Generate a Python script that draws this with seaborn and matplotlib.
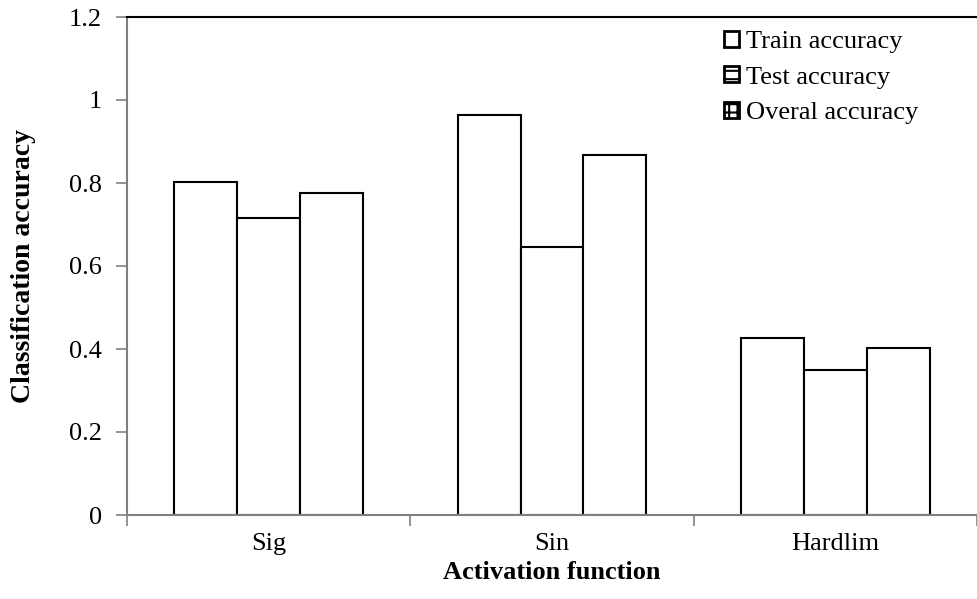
import pandas as pd
import numpy as np
import matplotlib.pyplot as plt
import seaborn as sns
from matplotlib.patches import Patch

functions = ['Sig', 'Sin', 'Hardlim']
metrics = ['Train accuracy', 'Test accuracy', 'Overal accuracy']
train_acc = [0.802, 0.964, 0.427]
test_acc = [0.715, 0.646, 0.349]
overall_acc = [0.776, 0.867, 0.402]
y_ticks = [0, 0.2, 0.4, 0.6, 0.8, 1, 1.2]
y_tick_labels = ['0', '0.2', '0.4', '0.6', '0.8', '1', '1.2']

rows = []
for name, vals in zip(metrics, [train_acc, test_acc, overall_acc]):
    for f, v in zip(functions, vals):
        rows.append({'func': f, 'metric': name, 'acc': v})
df = pd.DataFrame(rows)

sns.set_style('white')
plt.rcParams['font.family'] = ['Liberation Serif', 'DejaVu Serif']
plt.rcParams['text.color'] = 'black'
plt.rcParams['axes.labelcolor'] = 'black'
plt.rcParams['xtick.color'] = 'black'
plt.rcParams['ytick.color'] = 'black'
plt.rcParams['hatch.linewidth'] = 1.5

fig = plt.figure(figsize=(9.77, 5.99), dpi=100)
ax = fig.add_axes([127 / 977, 1 - 515 / 599, 1 - 127 / 977, (515 - 17) / 599])

sns.barplot(data=df, x='func', y='acc', hue='metric', order=functions,
            hue_order=metrics, palette=['white'] * 3, edgecolor='black',
            linewidth=1.5, width=0.667, ax=ax, legend=False)

ax.set_ylim(0, 1.2)
ax.set_xlim(-0.5, 2.5 - 5 / 285)
ax.set_yticks(y_ticks)
ax.set_yticklabels(y_tick_labels, fontsize=19)

# category boundary ticks, labels at centers
ax.set_xticks([-0.5, 0.5, 1.5, 2.5])
ax.set_xticklabels([])
ax.set_xticks(range(len(functions)), minor=True)
ax.set_xticklabels(functions, minor=True, fontsize=19)
ax.tick_params(axis='x', which='minor', bottom=True, length=0, pad=13)
ax.tick_params(axis='x', which='major', bottom=True, direction='out', length=8,
               color='#808080', width=1.2)
ax.tick_params(axis='y', left=True, direction='out', length=8, color='#808080',
               width=1.2, pad=10, labelcolor='black')

for side in ['left', 'bottom']:
    ax.spines[side].set_color('#808080')
    ax.spines[side].set_linewidth(1.5)
ax.spines['top'].set_color('black')
ax.spines['top'].set_linewidth(1.5)
ax.spines['right'].set_visible(False)

ax.set_xlabel('Activation function', fontsize=19, fontweight='bold', labelpad=4)
ax.set_ylabel('Classification accuracy', fontsize=20, fontweight='bold', labelpad=24)

handles = [Patch(facecolor='white', edgecolor='black', linewidth=2, label=metrics[0]),
           Patch(facecolor='white', edgecolor='black', linewidth=2, hatch='--', label=metrics[1]),
           Patch(facecolor='white', edgecolor='black', linewidth=2, hatch='++', label=metrics[2])]
fig.legend(handles=handles, loc='upper left', bbox_to_anchor=(724 / 977, 1 - 31 / 599),
           frameon=False, fontsize=19, handlelength=0.55, handleheight=0.55,
           handletextpad=0.3, labelspacing=0.5, borderaxespad=0, borderpad=0)

fig.savefig('out.png', dpi=100)
